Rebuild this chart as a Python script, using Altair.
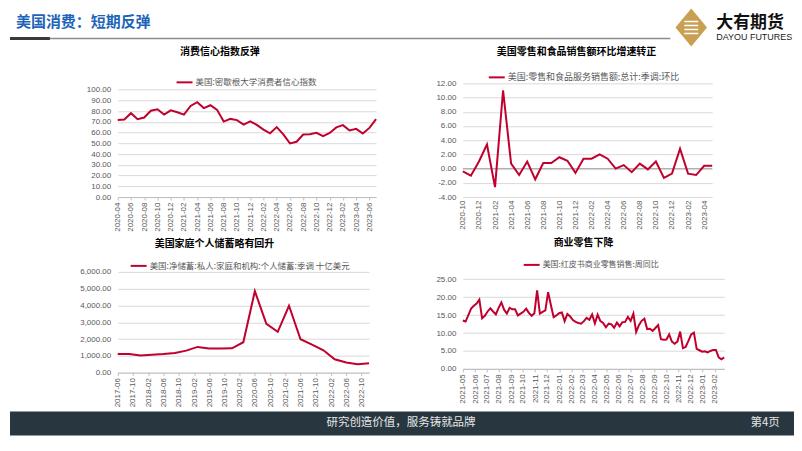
import altair as alt
import pandas as pd

RED = "#C0002D"
GRID = "#D9D9D9"
AXIS = "#BFBFBF"
LBL = "#595959"
BLUE = "#1C64B8"
GOLD = "#C9A052"
FOOT = "#27363F"
CJK = "Noto Sans CJK SC"
LAT = "Liberation Sans"


def months(y, m, n):
    out = []
    for i in range(n):
        mm = m - 1 + i
        out.append(f"{y + mm // 12}-{mm % 12 + 1:02d}")
    return out


# ---------------- chart 1: consumer sentiment ----------------
cs_title = "消费信心指数反弹"
cs_name = "美国:密歇根大学消费者信心指数"
cs_months = months(2020, 4, 40)
cs_values = [71.8, 72.3, 78.1, 72.5, 74.1, 80.4, 81.8, 76.9, 80.7, 79.0,
             76.8, 84.9, 88.3, 82.9, 85.5, 81.2, 70.3, 72.8, 71.7, 67.4,
             70.6, 67.2, 62.8, 59.4, 65.2, 58.4, 50.0, 51.5, 58.2, 58.6,
             59.9, 56.8, 59.7, 64.9, 67.0, 62.0, 63.5, 59.2, 64.4, 72.6]
cs_yticks = [0, 10, 20, 30, 40, 50, 60, 70, 80, 90, 100]

# ---------------- chart 2: retail sales MoM ----------------
rs_title = "美国零售和食品销售额环比增速转正"
rs_name = "美国:零售和食品服务销售额:总计:季调:环比"
rs_months = months(2020, 10, 32)
rs_values = [-0.4, -1.0, 1.0, 3.4, -2.6, 11.0, 0.7, -0.9, 1.0, -1.5,
             0.8, 0.8, 1.6, 1.1, -0.6, 1.4, 1.4, 2.0, 1.4, 0.0,
             0.5, -0.5, 0.7, -0.1, 1.0, -1.3, -0.7, 2.8, -0.7, -0.9,
             0.4, 0.4]
rs_yticks = [-4, -2, 0, 2, 4, 6, 8, 10, 12]

# ---------------- chart 3: personal saving ----------------
sv_title = "美国家庭个人储蓄略有回升"
sv_name = "美国:净储蓄:私人:家庭和机构:个人储蓄:季调 十亿美元"
sv_dates = [d.replace("-", "/") + "/01" for d in months(2017, 6, 67)[::3]]
sv_values = [1110, 1110, 1014, 1070, 1110, 1170, 1310, 1530, 1430, 1430,
             1450, 1810, 4850, 2900, 2430, 3980, 1990, 1670, 1330, 795,
             600, 500, 560]
sv_ticks = months(2017, 6, 65)[::4]
sv_yticks = [0, 1000, 2000, 3000, 4000, 5000, 6000]

# ---------------- chart 4: Redbook weekly YoY ----------------
rb_title = "商业零售下降"
rb_name = "美国:红皮书商业零售销售:周同比"
rb_dates = [d.strftime("%Y/%m/%d") for d in pd.date_range("2021-05-01", periods=96, freq="7D")]
rb_values = [13.5, 13.2, 15.0, 16.8, 17.6, 18.2, 19.3, 14.1, 14.8, 16.0,
             16.9, 16.0, 15.2, 17.0, 18.5, 16.5, 15.4, 17.0, 16.6, 16.6,
             14.9, 15.4, 15.9, 16.8, 15.6, 14.8, 15.5, 21.9, 15.4, 15.9,
             16.3, 21.4, 17.8, 14.4, 14.9, 15.5, 15.7, 13.3, 15.3, 14.6,
             13.6, 13.1, 12.8, 12.6, 13.3, 14.2, 13.7, 15.2, 12.7, 15.1,
             13.3, 12.8, 11.6, 12.6, 12.4, 11.5, 12.9, 11.9, 13.0, 13.1,
             14.5, 13.4, 15.4, 10.3, 12.2, 13.4, 14.0, 11.1, 11.2, 10.6,
             11.4, 12.2, 8.3, 8.1, 8.2, 9.6, 7.6, 7.0, 7.6, 10.4,
             5.8, 6.1, 7.8, 9.6, 10.1, 5.6, 5.2, 4.8, 4.9, 4.6,
             5.0, 5.3, 5.3, 3.2, 2.7, 3.2]
rb_ticks = months(2021, 5, 22)
rb_yticks = [0, 5, 10, 15, 20, 25]

header_title = "美国消费：短期反弹"
logo_cn = "大有期货"
logo_en = "DAYOU FUTURES"
footer_text = "研究创造价值，服务铸就品牌"
page_text = "第4页"


def dt(s):
    y, m = s.split("-")
    return alt.DateTime(year=int(y), month=int(m), date=1)


def y_axis(values, fmt):
    return alt.Axis(values=values,
                    labelExpr=f"replace(format(datum.value, '{fmt}'), '\u2212', '-')",
                    grid=True, gridColor=GRID, gridWidth=1, domain=False, ticks=False,
                    labelPadding=7, labelFont=LAT, labelFontSize=8, labelColor=LBL,
                    labelOverlap=False, title=None)


def x_axis(values, **kw):
    args = dict(values=values, labelAngle=270, labelFont=LAT, labelFontSize=8,
                labelColor=LBL, labelPadding=2, domainColor=AXIS, tickColor=AXIS,
                tickSize=3, grid=False, labelOverlap=False, labelFlush=False, title=None)
    args.update(kw)
    return alt.Axis(**args)


def legend(x, y, size):
    return alt.Legend(orient="none", legendX=x, legendY=y, title=None,
                      symbolType="stroke", symbolStrokeWidth=2, symbolSize=256,
                      labelFont=CJK, labelFontSize=size, labelColor=LBL,
                      labelOffset=2, labelLimit=400, padding=0)


def ttl(text, dx, offset):
    return alt.TitleParams(text=text, font=CJK, fontSize=10, fontWeight="bold",
                           color="#000000", anchor="middle", frame="group",
                           dx=dx, offset=offset)


dfh = pd.DataFrame({"a": [0]})


def spacer(w, h):
    return alt.Chart(dfh).mark_point(opacity=0).encode(
        x=alt.value(0), y=alt.value(0)).properties(width=w, height=h)


# panel 1
df1 = pd.DataFrame({"m": cs_months, "v": cs_values, "s": cs_name})
p1 = alt.Chart(df1).mark_line(strokeWidth=2).encode(
    x=alt.X("m:N", sort=cs_months, scale=alt.Scale(padding=0), axis=x_axis(cs_months[::2])),
    y=alt.Y("v:Q", scale=alt.Scale(domain=[0, 105.9], nice=False, zero=False),
            axis=y_axis(cs_yticks, ".2f")),
    color=alt.Color("s:N", scale=alt.Scale(range=[RED]), legend=legend(58, -10, 8.5)),
).properties(width=259, height=114, title=ttl(cs_title, -27, 16))

# panel 2
df2 = pd.DataFrame({"m": rs_months, "v": rs_values, "s": rs_name})
y2scale = alt.Scale(domain=[-4, 12], nice=False, zero=False)
p2_zero = alt.Chart(pd.DataFrame({"v": [0]})).mark_rule(color="#A6A6A6", strokeWidth=1).encode(
    y=alt.Y("v:Q", scale=y2scale, axis=y_axis(rs_yticks, ".2f")))
p2_line = alt.Chart(df2).mark_line(strokeWidth=2).encode(
    x=alt.X("m:N", sort=rs_months, scale=alt.Scale(padding=0),
            axis=x_axis(rs_months[::2], domain=False, ticks=False, labelPadding=3)),
    y=alt.Y("v:Q", scale=y2scale, axis=y_axis(rs_yticks, ".2f")),
    color=alt.Color("s:N", scale=alt.Scale(range=[RED]), legend=legend(25, -15, 9)),
)
p2 = alt.layer(p2_zero, p2_line).properties(width=250, height=114, title=ttl(rs_title, -11, 11))

# panel 3
df3 = pd.DataFrame({"d": sv_dates, "v": sv_values, "s": sv_name})
p3 = alt.Chart(df3).mark_line(strokeWidth=2).encode(
    x=alt.X("d:T", scale=alt.Scale(domain=[dt("2017-06"), dt("2022-12")], nice=False),
            axis=x_axis([dt(t) for t in sv_ticks], format="%Y-%m")),
    y=alt.Y("v:Q", scale=alt.Scale(domain=[0, 6000], nice=False, zero=False),
            axis=y_axis(sv_yticks, ",.2f")),
    color=alt.Color("s:N", scale=alt.Scale(range=[RED]), legend=legend(12, -15, 8.5)),
).properties(width=252, height=101, title=ttl(sv_title, -29, 8))

# panel 4
df4 = pd.DataFrame({"d": rb_dates, "v": rb_values, "s": rb_name})
p4 = alt.Chart(df4).mark_line(strokeWidth=2).encode(
    x=alt.X("d:T", scale=alt.Scale(domain=[alt.DateTime(year=2021, month=5, date=1),
                                           alt.DateTime(year=2023, month=2, date=25)], nice=False),
            axis=x_axis([dt(t) for t in rb_ticks], format="%Y-%m", offset=-3.7)),
    y=alt.Y("v:Q", scale=alt.Scale(domain=[-1.03, 27.03], nice=False, zero=False),
            axis=y_axis(rb_yticks, ".2f")),
    color=alt.Color("s:N", scale=alt.Scale(range=[RED]), legend=legend(60, -16, 8)),
).properties(width=262, height=101, title=ttl(rb_title, -10, 8))

# header (drawn in the first cell of the top row, above it)
HT = -75
h_box = alt.Chart(dfh).mark_rect(opacity=0).encode(
    x=alt.value(0), x2=alt.value(786), y=alt.value(HT), y2=alt.value(0))
h_title = alt.Chart(dfh).mark_text(text=header_title, align="left", baseline="middle", font=CJK,
                                   fontSize=15, fontWeight="bold", color=BLUE).encode(
    x=alt.value(6), y=alt.value(HT + 14))
h_line = alt.Chart(dfh).mark_rule(color="#8C8C8C", strokeWidth=1.5).encode(
    x=alt.value(0), x2=alt.value(662), y=alt.value(HT + 30))
h_dark = alt.Chart(dfh).mark_rule(color="#3A3A3A", strokeWidth=3).encode(
    x=alt.value(0), x2=alt.value(40), y=alt.value(HT + 30))
h_diamond = alt.Chart(dfh).mark_point(shape="M0,-1.2L1,0L0,1.2L-1,0Z", filled=True, color=GOLD,
                                      size=1000, opacity=1).encode(x=alt.value(683), y=alt.value(HT + 19))
h_stripes = [alt.Chart(dfh).mark_rule(color="white", strokeWidth=1.5).encode(
    x=alt.value(676), x2=alt.value(690), y=alt.value(HT + yy)) for yy in (13, 17, 21, 25)]
h_cn = alt.Chart(dfh).mark_text(text=logo_cn, align="left", baseline="middle", font=CJK,
                                fontSize=17, fontWeight="bold", color="#111111").encode(
    x=alt.value(708), y=alt.value(HT + 15))
h_en = alt.Chart(dfh).mark_text(text=logo_en, align="left", baseline="middle", font=LAT,
                                fontSize=9, color="#222222").encode(
    x=alt.value(708), y=alt.value(HT + 29))
head_cell = alt.layer(h_box, h_title, h_line, h_dark, h_diamond, *h_stripes, h_cn, h_en).properties(
    width=101, height=114)

# footer (drawn in the first cell of the bottom row, below it)
FT = 140
f_rect = alt.Chart(dfh).mark_rect(color=FOOT).encode(
    x=alt.value(0), x2=alt.value(786), y=alt.value(FT), y2=alt.value(FT + 24))
f_text = alt.Chart(dfh).mark_text(text=footer_text, align="center", baseline="middle", font=CJK,
                                  fontSize=11.5, color="#E6E6E6").encode(x=alt.value(392), y=alt.value(FT + 12))
f_page = alt.Chart(dfh).mark_text(text=page_text, align="center", baseline="middle", font=CJK,
                                  fontSize=11.5, color="#E6E6E6").encode(x=alt.value(757), y=alt.value(FT + 12))
foot_cell = alt.layer(f_rect, f_text, f_page).properties(width=108, height=101)

chart = alt.concat(
    head_cell, p1, spacer(87, 114), p2,
    foot_cell, p3, spacer(78, 101), p4,
    columns=4, spacing={"row": 75, "column": 0}, bounds="flush", align="none",
).resolve_scale(color="independent").properties(
    padding=0, background="white").configure_view(stroke=None, strokeWidth=0)

chart.save("out.html", embed_options={"renderer": "svg", "actions": False})
